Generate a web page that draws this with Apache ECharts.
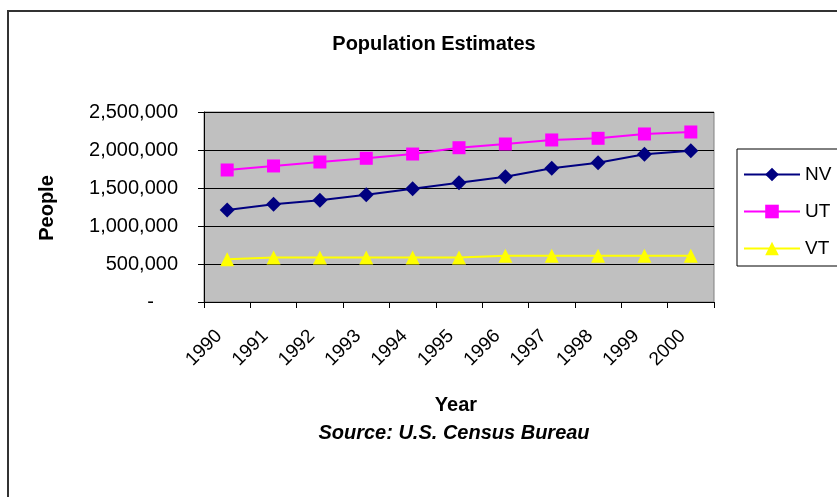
<!DOCTYPE html>
<html>
<head>
<meta charset="utf-8">
<script src="https://cdn.jsdelivr.net/npm/echarts@6/dist/echarts.min.js"></script>
<style>
  html, body { margin: 0; padding: 0; background: #fff; }
  #chart { width: 837px; height: 497px; }
</style>
</head>
<body>
<div id="chart"></div>
<script>
// Population estimates by state, 1990-2000
const years = ['1990', '1991', '1992', '1993', '1994', '1995', '1996', '1997', '1998', '1999', '2000'];
const nv = [1210000, 1285000, 1338000, 1412000, 1491000, 1570000, 1649000, 1759000, 1833000, 1943000, 1991000];
const ut = [1737000, 1790000, 1842000, 1891000, 1947000, 2030000, 2079000, 2132000, 2154000, 2211000, 2237000];
const vt = [562000, 585000, 585000, 585000, 585000, 585000, 610000, 610000, 610000, 610000, 610000];
const yTicks = [0, 500000, 1000000, 1500000, 2000000, 2500000];

const FONT = '"Liberation Sans", Arial, sans-serif';
const yStep = yTicks[1] - yTicks[0];

// Year labels are placed a little right of the tick marks between categories:
// a second, invisible grid (same size, nudged right) carries a category axis
// without boundary gap, with one extra empty slot.
const yearLabelSlots = years.concat(['']);

const PLOT = { left: 204, top: 112, width: 510, height: 190 };

const chart = echarts.init(document.getElementById('chart'), null, { renderer: 'canvas' });

chart.setOption({
  backgroundColor: '#ffffff',
  animation: false,
  title: [
    { text: 'Population Estimates', left: 429, top: 29, textAlign: 'center',
      textStyle: { fontFamily: FONT, fontSize: 20, fontWeight: 'bold', color: '#000' } },
    { text: 'Year', left: 451, top: 390, textAlign: 'center',
      textStyle: { fontFamily: FONT, fontSize: 20, fontWeight: 'bold', color: '#000' } },
    { text: 'Source: U.S. Census Bureau', left: 449, top: 418, textAlign: 'center',
      textStyle: { fontFamily: FONT, fontSize: 20, fontWeight: 'bold', fontStyle: 'italic', color: '#000' } }
  ],
  graphic: [
    { type: 'rect', silent: true, z: -1,
      shape: { x: 8, y: 11, width: 900, height: 600 },
      style: { fill: 'none', stroke: '#333', lineWidth: 2 } },
    { type: 'text', x: 47, y: 208, rotation: Math.PI / 2,
      style: { text: 'People', fontFamily: FONT, fontSize: 20, fontWeight: 'bold',
               fill: '#000', align: 'center', verticalAlign: 'middle' } }
  ],
  legend: {
    orient: 'vertical',
    left: 737, top: 149,
    padding: [16, 60, 8, 6],
    borderColor: '#000', borderWidth: 1,
    itemWidth: 56, itemHeight: 17, itemGap: 18,
    textStyle: { fontFamily: FONT, fontSize: 19, color: '#000' },
    data: ['NV', 'UT', 'VT']
  },
  grid: [
    Object.assign({ show: true, backgroundColor: '#c0c0c0', borderColor: '#808080', borderWidth: 1 }, PLOT),
    Object.assign({ show: false }, PLOT, { left: PLOT.left + 15 })
  ],
  xAxis: [
    {
      type: 'category', data: years, boundaryGap: true, gridIndex: 0,
      axisLine: { lineStyle: { color: '#000', width: 1 } },
      axisTick: { show: true, length: 6, lineStyle: { color: '#000' } },
      axisLabel: { show: false },
      splitLine: { show: false }
    },
    {
      type: 'category', data: yearLabelSlots, boundaryGap: false, gridIndex: 1, position: 'bottom',
      axisLine: { show: false }, axisTick: { show: false },
      axisLabel: { show: true, rotate: 45, margin: 31, interval: 0,
                   fontFamily: FONT, fontSize: 19, color: '#000' },
      splitLine: { show: false }
    }
  ],
  yAxis: [
    {
      type: 'value', gridIndex: 0,
      min: yTicks[0], max: yTicks[yTicks.length - 1], interval: yStep,
      axisLine: { show: true, lineStyle: { color: '#000', width: 1 } },
      axisTick: { show: true, length: 6, lineStyle: { color: '#000' } },
      splitLine: { show: true, lineStyle: { color: '#000', width: 1 } },
      axisLabel: {
        margin: 26, fontFamily: FONT, fontSize: 20, color: '#000',
        formatter: v => v === 0 ? '{dash|-}' : v.toLocaleString('en-US'),
        rich: { dash: { fontFamily: FONT, fontSize: 20, color: '#000', padding: [0, 24, 0, 0] } }
      }
    },
    { type: 'value', gridIndex: 1, show: false, splitLine: { show: false } }
  ],
  series: [
    { name: 'NV', type: 'line', data: nv, symbol: 'diamond', symbolSize: 15,
      itemStyle: { color: '#000080' }, lineStyle: { color: '#000080', width: 2 } },
    { name: 'UT', type: 'line', data: ut, symbol: 'rect', symbolSize: 13,
      itemStyle: { color: '#ff00ff' }, lineStyle: { color: '#ff00ff', width: 2 } },
    { name: 'VT', type: 'line', data: vt, symbol: 'triangle', symbolSize: 14,
      itemStyle: { color: '#ffff00' }, lineStyle: { color: '#ffff00', width: 2 } }
  ]
});
</script>
</body>
</html>
